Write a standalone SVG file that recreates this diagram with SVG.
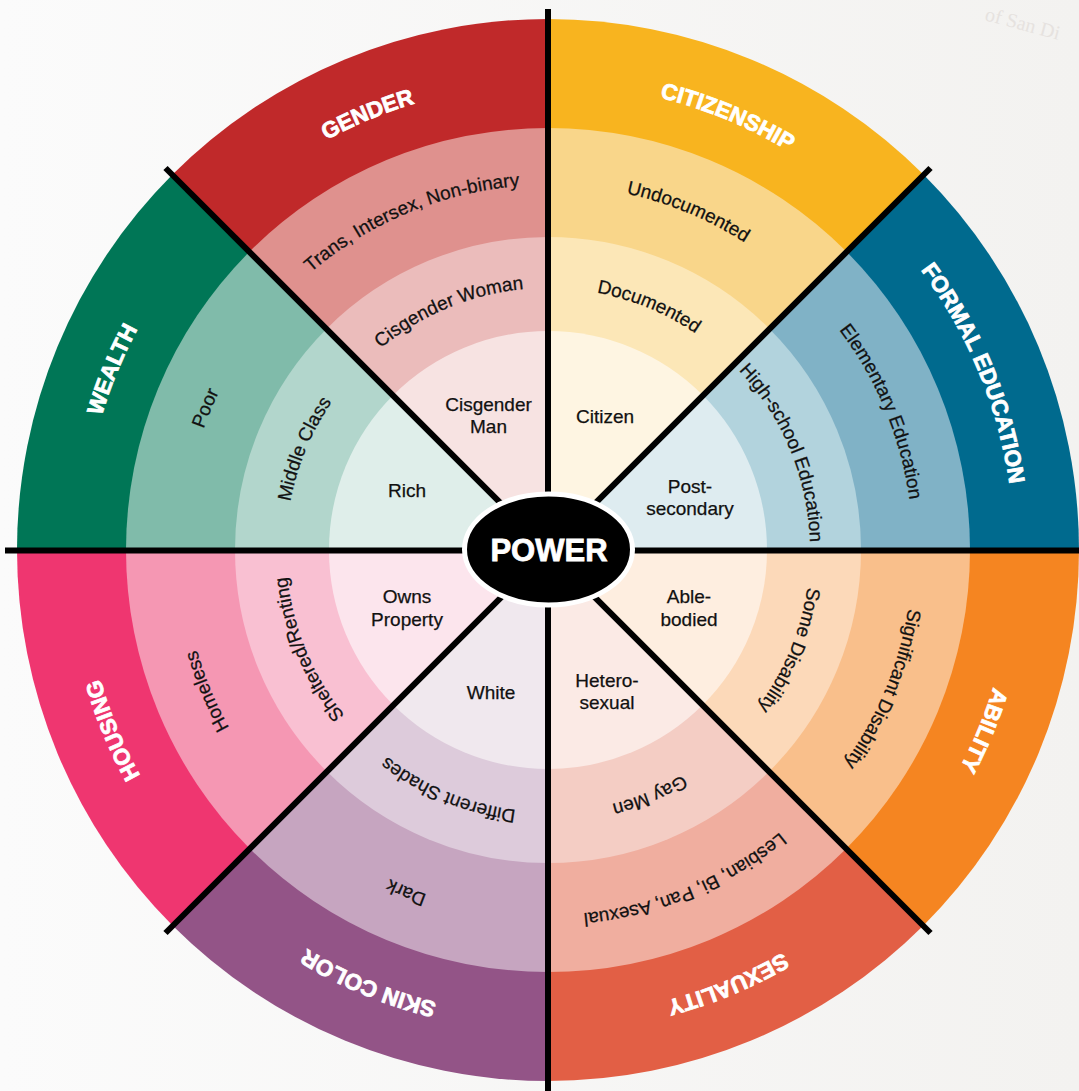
<svg xmlns="http://www.w3.org/2000/svg" width="1079" height="1091" viewBox="0 0 1079 1091">
  <style>
    .cat { font-family: "Liberation Sans", Arial, sans-serif; font-weight: 700; font-size: 22.5px; fill: #ffffff; stroke: #ffffff; stroke-width: 0.8px; text-anchor: middle; }
    .lbl { font-family: "Liberation Sans", Arial, sans-serif; font-size: 19px; fill: #111111; stroke: #111111; stroke-width: 0.25px; text-anchor: middle; }
    .div { stroke: #000000; stroke-width: 6; stroke-linecap: butt; }
  </style>
  <defs>
    <linearGradient id="paper" x1="0" y1="0" x2="1" y2="0">
      <stop offset="0" stop-color="#FBFBFB"/>
      <stop offset="1" stop-color="#F3F2F0"/>
    </linearGradient>
    <!-- 45 degree pie slices, first sector (12 o'clock to 1:30), rotated per sector -->
    <path id="p531" d="M548 550 L548 19 A531 531 0 0 1 923.47 174.53 Z"/>
    <path id="p422" d="M548 550 L548 128 A422 422 0 0 1 846.40 251.60 Z"/>
    <path id="p313" d="M548 550 L548 237 A313 313 0 0 1 769.32 328.68 Z"/>
    <path id="p219" d="M548 550 L548 331 A219 219 0 0 1 702.86 395.14 Z"/>
    <!-- clockwise label arcs centred on 12 o'clock -->
    <path id="a466" d="M248.46 193.02 A466 466 0 0 1 847.54 193.02"/>
    <path id="a365" d="M313.38 270.39 A365 365 0 0 1 782.62 270.39"/>
    <path id="a262" d="M379.59 349.30 A262 262 0 0 1 716.41 349.30"/>
  </defs>

  <rect x="0" y="0" width="1079" height="1091" fill="url(#paper)"/>
  <text x="984" y="20" transform="rotate(15 984 20)" font-family="Liberation Serif, serif" font-size="20" fill="#E6E2DF">of San Di</text>

  <g id="sector-citizenship">
    <use href="#p531" fill="#F8B41F"/>
    <use href="#p422" fill="#F9D68A"/>
    <use href="#p313" fill="#FCE7B7"/>
    <use href="#p219" fill="#FEF5E2"/>
    <text class="cat" transform="rotate(22.5 548 550)"><textPath href="#a466" startOffset="50%">CITIZENSHIP</textPath></text>
    <text class="lbl" transform="rotate(22.5 548 550)"><textPath href="#a365" startOffset="50%">Undocumented</textPath></text>
    <text class="lbl" transform="rotate(22.5 548 550)"><textPath href="#a262" startOffset="50%">Documented</textPath></text>
    <text class="lbl" x="605" y="423">Citizen</text>
  </g>

  <g id="sector-formal-education">
    <use href="#p531" fill="#006A8E" transform="rotate(45 548 550)"/>
    <use href="#p422" fill="#80B2C6" transform="rotate(45 548 550)"/>
    <use href="#p313" fill="#B2D3DD" transform="rotate(45 548 550)"/>
    <use href="#p219" fill="#DEECF0" transform="rotate(45 548 550)"/>
    <text class="cat" transform="rotate(67.5 548 550)"><textPath href="#a466" startOffset="50%">FORMAL EDUCATION</textPath></text>
    <text class="lbl" transform="rotate(67.5 548 550)"><textPath href="#a365" startOffset="50%">Elementary Education</textPath></text>
    <text class="lbl" transform="rotate(67.5 548 550)"><textPath href="#a262" startOffset="50%">High-school Education</textPath></text>
    <text class="lbl" x="690" y="493">Post-</text>
    <text class="lbl" x="690" y="515">secondary</text>
  </g>

  <g id="sector-ability">
    <use href="#p531" fill="#F58521" transform="rotate(90 548 550)"/>
    <use href="#p422" fill="#F9BF8B" transform="rotate(90 548 550)"/>
    <use href="#p313" fill="#FCD9B9" transform="rotate(90 548 550)"/>
    <use href="#p219" fill="#FEEEE0" transform="rotate(90 548 550)"/>
    <text class="cat" transform="rotate(112.5 548 550)"><textPath href="#a466" startOffset="50%">ABILITY</textPath></text>
    <text class="lbl" transform="rotate(112.5 548 550)"><textPath href="#a365" startOffset="50%">Significant Disability</textPath></text>
    <text class="lbl" transform="rotate(112.5 548 550)"><textPath href="#a262" startOffset="50%">Some Disability</textPath></text>
    <text class="lbl" x="689" y="603">Able-</text>
    <text class="lbl" x="689" y="626">bodied</text>
  </g>

  <g id="sector-sexuality">
    <use href="#p531" fill="#E25F45" transform="rotate(135 548 550)"/>
    <use href="#p422" fill="#F0AE9F" transform="rotate(135 548 550)"/>
    <use href="#p313" fill="#F4CDC4" transform="rotate(135 548 550)"/>
    <use href="#p219" fill="#FBEAE5" transform="rotate(135 548 550)"/>
    <text class="cat" transform="rotate(157.5 548 550)"><textPath href="#a466" startOffset="50%">SEXUALITY</textPath></text>
    <text class="lbl" transform="rotate(157.5 548 550)"><textPath href="#a365" startOffset="50%">Lesbian, Bi, Pan, Asexual</textPath></text>
    <text class="lbl" transform="rotate(157.5 548 550)"><textPath href="#a262" startOffset="50%">Gay Men</textPath></text>
    <text class="lbl" x="607" y="687">Hetero-</text>
    <text class="lbl" x="607" y="709">sexual</text>
  </g>

  <g id="sector-skin-color">
    <use href="#p531" fill="#935487" transform="rotate(180 548 550)"/>
    <use href="#p422" fill="#C6A5C0" transform="rotate(180 548 550)"/>
    <use href="#p313" fill="#DDCBDB" transform="rotate(180 548 550)"/>
    <use href="#p219" fill="#F0E8EE" transform="rotate(180 548 550)"/>
    <text class="cat" transform="rotate(202.5 548 550)"><textPath href="#a466" startOffset="50%">SKIN COLOR</textPath></text>
    <text class="lbl" transform="rotate(202.5 548 550)"><textPath href="#a365" startOffset="50%">Dark</textPath></text>
    <text class="lbl" transform="rotate(202.5 548 550)"><textPath href="#a262" startOffset="50%">Different Shades</textPath></text>
    <text class="lbl" x="491" y="699">White</text>
  </g>

  <g id="sector-housing">
    <use href="#p531" fill="#EF3670" transform="rotate(225 548 550)"/>
    <use href="#p422" fill="#F597B3" transform="rotate(225 548 550)"/>
    <use href="#p313" fill="#F9C0D2" transform="rotate(225 548 550)"/>
    <use href="#p219" fill="#FCE5ED" transform="rotate(225 548 550)"/>
    <text class="cat" transform="rotate(247.5 548 550)"><textPath href="#a466" startOffset="50%">HOUSING</textPath></text>
    <text class="lbl" transform="rotate(247.5 548 550)"><textPath href="#a365" startOffset="50%">Homeless</textPath></text>
    <text class="lbl" transform="rotate(247.5 548 550)"><textPath href="#a262" startOffset="50%">Sheltered/Renting</textPath></text>
    <text class="lbl" x="407" y="603">Owns</text>
    <text class="lbl" x="407" y="626">Property</text>
  </g>

  <g id="sector-wealth">
    <use href="#p531" fill="#007656" transform="rotate(270 548 550)"/>
    <use href="#p422" fill="#80BBAA" transform="rotate(270 548 550)"/>
    <use href="#p313" fill="#B2D6CC" transform="rotate(270 548 550)"/>
    <use href="#p219" fill="#DFEEEA" transform="rotate(270 548 550)"/>
    <text class="cat" transform="rotate(292.5 548 550)"><textPath href="#a466" startOffset="50%">WEALTH</textPath></text>
    <text class="lbl" transform="rotate(292.5 548 550)"><textPath href="#a365" startOffset="50%">Poor</textPath></text>
    <text class="lbl" transform="rotate(292.5 548 550)"><textPath href="#a262" startOffset="50%">Middle Class</textPath></text>
    <text class="lbl" x="407" y="497">Rich</text>
  </g>

  <g id="sector-gender">
    <use href="#p531" fill="#C0292A" transform="rotate(315 548 550)"/>
    <use href="#p422" fill="#DF918E" transform="rotate(315 548 550)"/>
    <use href="#p313" fill="#EBBCBB" transform="rotate(315 548 550)"/>
    <use href="#p219" fill="#F7E3E2" transform="rotate(315 548 550)"/>
    <text class="cat" transform="rotate(337.5 548 550)"><textPath href="#a466" startOffset="50%">GENDER</textPath></text>
    <text class="lbl" transform="rotate(337.5 548 550)"><textPath href="#a365" startOffset="50%">Trans, Intersex, Non-binary</textPath></text>
    <text class="lbl" transform="rotate(337.5 548 550)"><textPath href="#a262" startOffset="50%">Cisgender Woman</textPath></text>
    <text class="lbl" x="488.5" y="411">Cisgender</text>
    <text class="lbl" x="488.5" y="433">Man</text>
  </g>

  <!-- dividing spokes -->
  <g id="dividers">
    <line class="div" x1="548" y1="9" x2="548" y2="1091"/>
    <line class="div" x1="5" y1="550.5" x2="1079" y2="550.5"/>
    <line class="div" x1="165.5" y1="168" x2="930.5" y2="933"/>
    <line class="div" x1="930.5" y1="168" x2="165.5" y2="933"/>
  </g>

  <g id="power">
    <ellipse cx="548.5" cy="549.5" rx="84" ry="55.5" fill="#000000" stroke="#ffffff" stroke-width="5"/>
    <text x="549" y="560.5" font-family="Liberation Sans, Arial, sans-serif" font-weight="700" font-size="31" fill="#ffffff" stroke="#ffffff" stroke-width="0.8" text-anchor="middle">POWER</text>
  </g>
</svg>
